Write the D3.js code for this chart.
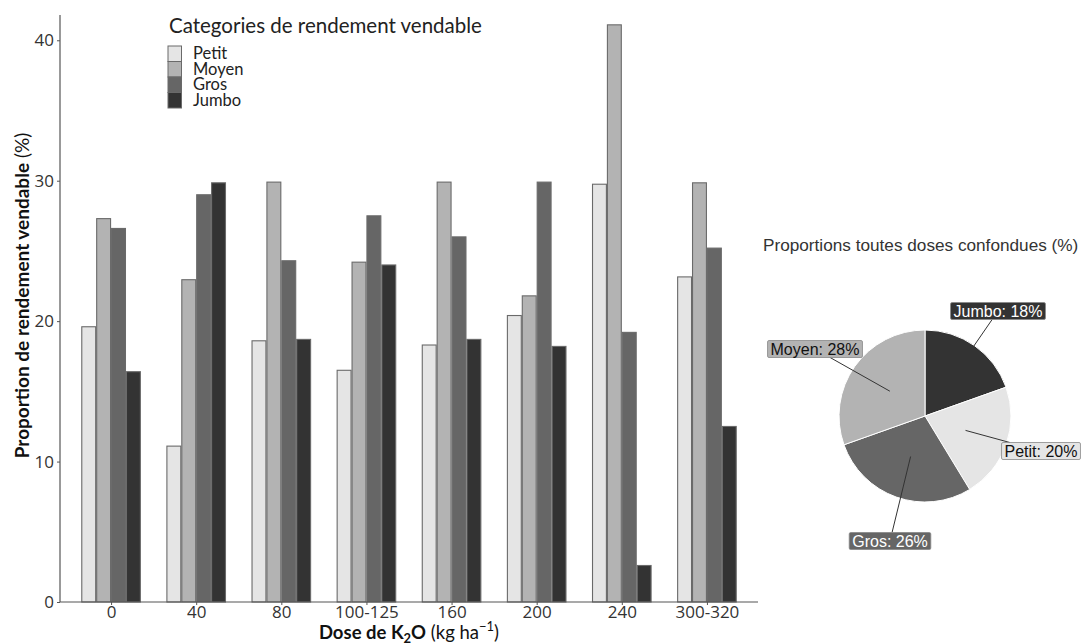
<!DOCTYPE html>
<html><head><meta charset="utf-8">
<script src="https://cdn.jsdelivr.net/npm/d3@7"></script>
<style>body{margin:0;background:#fff}svg{display:block}</style>
</head><body><svg id="c" width="1084" height="644"></svg>
<script>
// ---- data ----
const categories = ["0","40","80","100-125","160","200","240","300-320"];
const seriesNames = ["Petit","Moyen","Gros","Jumbo"];
const petit = [19.6, 11.1, 18.6, 16.5, 18.3, 20.4, 29.75, 23.15];
const moyen = [27.3, 22.95, 29.9, 24.2, 29.9, 21.8, 41.1, 29.85];
const gros  = [26.6, 29.0, 24.3, 27.5, 26.0, 29.9, 19.2, 25.2];
const jumbo = [16.4, 29.85, 18.7, 24.0, 18.7, 18.2, 2.6, 12.5];
const yTicks = [0, 10, 20, 30, 40];
const pieNames = ["Jumbo","Petit","Gros","Moyen"];
const piePercents = [18, 20, 26, 28];

// ---- styles / layout ----
const fills = {Petit:"#e5e5e5", Moyen:"#b3b3b3", Gros:"#666666", Jumbo:"#333333"};
const labelText = {Petit:"#111", Moyen:"#111", Gros:"#fff", Jumbo:"#fff"};
const FONT = "Lato, 'Open Sans', sans-serif";
const TFONT = "'Open Sans', Lato, sans-serif";
const PFONT = "'Liberation Sans', Arial, sans-serif";
const seriesData = {Petit:petit, Moyen:moyen, Gros:gros, Jumbo:jumbo};

const svg = d3.select("#c");
const mLeft = 60, mRight = 758, mTop = 15, mBottom = 602;

const x = d3.scalePoint().domain(categories).range([mLeft, mRight]).padding(0.6);
const groupW = x.step() * 0.7;
const x1 = d3.scaleBand().domain(seriesNames).range([-groupW/2, groupW/2]);
const y = d3.scaleLinear().domain([0, 41.8]).range([mBottom, mTop]);

// bars
const g = svg.append("g");
seriesNames.forEach(s => {
  g.selectAll(null).data(categories.map((c,i)=>({c, v: seriesData[s][i]})))
    .join("rect")
    .attr("x", d => x(d.c) + x1(s) + 0.5)
    .attr("y", d => y(d.v))
    .attr("width", x1.bandwidth() - 1)
    .attr("height", d => y(0) - y(d.v))
    .attr("fill", fills[s])
    .attr("stroke", "#6a6a6a")
    .attr("stroke-width", 1.1);
});

// axes
const ax = svg.append("g").attr("transform", `translate(0,${mBottom})`)
  .call(d3.axisBottom(x).tickSize(3).tickSizeOuter(0).tickPadding(1));
const ay = svg.append("g").attr("transform", `translate(${mLeft},0)`)
  .call(d3.axisLeft(y).tickValues(yTicks).tickSize(3).tickSizeOuter(0).tickPadding(3));
[ax, ay].forEach(a => {
  a.select(".domain").attr("stroke", "#555").attr("stroke-width", 1.2);
  a.selectAll(".tick line").attr("stroke", "#555");
  a.selectAll(".tick text").attr("font-family", TFONT).attr("font-size", 17).attr("fill", "#333");
});
ax.select(".domain").attr("d", `M${mLeft},0H${mRight}`);
ay.select(".domain").attr("d", `M0,${mBottom}V${mTop}`);

// axis titles
const xt = svg.append("text").attr("x", (mLeft+mRight)/2).attr("y", 638.5)
  .attr("text-anchor", "middle").attr("font-family", FONT).attr("font-size", 18.5).attr("fill", "#111");
xt.append("tspan").attr("font-weight", "bold").text("Dose de K");
xt.append("tspan").attr("font-weight", "bold").attr("font-size", 13).attr("dy", 4).text("2");
xt.append("tspan").attr("font-weight", "bold").attr("dy", -4).text("O");
xt.append("tspan").text(" (kg ha");
xt.append("tspan").attr("font-size", 13).attr("dy", -8).text("−1");
xt.append("tspan").attr("dy", 8).text(")");

const yt = svg.append("text").attr("transform", `translate(29,${(mTop+mBottom)/2 - 13}) rotate(-90)`)
  .attr("text-anchor", "middle").attr("font-family", FONT).attr("font-size", 19).attr("fill", "#111");
yt.append("tspan").attr("font-weight", "bold").text("Proportion de rendement vendable");
yt.append("tspan").text(" (%)");

// legend
const lg = svg.append("g");
lg.append("text").attr("x", 169).attr("y", 33).attr("font-family", FONT).attr("font-size", 20.5)
  .attr("fill", "#222").text("Categories de rendement vendable");
seriesNames.forEach((s, i) => {
  lg.append("rect").attr("x", 168).attr("y", 46 + i*15.5).attr("width", 13.5).attr("height", 15.5)
    .attr("fill", fills[s]).attr("stroke", "#6a6a6a").attr("stroke-width", 1);
  lg.append("text").attr("x", 193).attr("y", 59 + i*15.5).attr("font-family", FONT).attr("font-size", 16.5)
    .attr("fill", "#222").text(s);
});

// pie
const cx = 925, cy = 416, R = 86;
svg.append("text").attr("x", 763).attr("y", 251).attr("font-family", PFONT).attr("font-size", 17.2)
  .attr("fill", "#333").text("Proportions toutes doses confondues (%)");
const pieData = d3.pie().sort(null).value(d => d.v)(pieNames.map((n,i)=>({n, v: piePercents[i]})));
const arc = d3.arc().innerRadius(0).outerRadius(R);
const pg = svg.append("g").attr("transform", `translate(${cx},${cy})`);
pg.selectAll("path").data(pieData).join("path").attr("d", arc)
  .attr("fill", d => fills[d.data.n]).attr("stroke", "#fff").attr("stroke-width", 1);

// label boxes (repelled positions relative to pie centre)
const labelOffsets = {Jumbo:[73,-105], Petit:[116,35], Gros:[-35,125], Moyen:[-110,-67]};
pieData.forEach(d => {
  const n = d.data.n;
  const [lx, ly] = labelOffsets[n];
  const t = pg.append("text").attr("x", lx).attr("y", ly).attr("text-anchor", "middle")
    .attr("dominant-baseline", "central").attr("font-family", PFONT).attr("font-size", 16)
    .attr("fill", labelText[n]).text(`${n}: ${d.data.v}%`);
  const bb = t.node().getBBox();
  const bw = bb.width + 6, bh = 17;
  const [c0x, c0y] = arc.centroid(d);
  const dx = c0x - lx, dy = c0y - ly;
  const s = Math.min(Math.abs((bw/2)/dx || Infinity), Math.abs((bh/2)/dy || Infinity));
  pg.insert("line", "text").attr("x1", c0x).attr("y1", c0y).attr("x2", lx + dx*s).attr("y2", ly + dy*s)
    .attr("stroke", "#333").attr("stroke-width", 1);
  pg.insert("rect", "text").attr("x", lx - bw/2).attr("y", ly - bh/2).attr("width", bw).attr("height", bh)
    .attr("rx", 1.5).attr("fill", fills[n]).attr("stroke", "#888").attr("stroke-width", 0.8);
  t.raise();
});
</script></body></html>
